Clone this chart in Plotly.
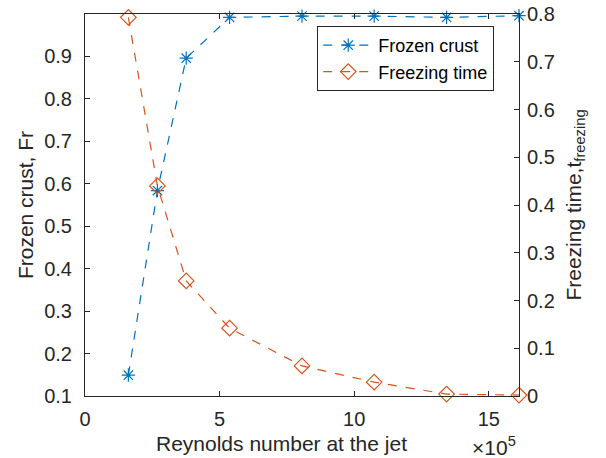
import plotly.graph_objects as go

re_jet = [1.61, 2.69, 3.76, 5.37, 8.06, 10.74, 13.43, 16.12]
frozen_crust = [0.149, 0.584, 0.896, 0.992, 0.995, 0.995, 0.992, 0.996]
freezing_time = [0.793, 0.440, 0.241, 0.142, 0.063, 0.029, 0.004, 0.002]

blue = "#0072BD"
orange = "#D95319"
ink = "#262626"
font = "Liberation Sans, Arial, Helvetica, sans-serif"

L, R, T, B = 84.5, 87, 14, 62
W, H = 606, 458
pw = W - L - R
ph = H - T - B

fig = go.Figure()
fig.add_trace(go.Scatter(
    x=re_jet, y=frozen_crust, name="Frozen crust", mode="lines+markers",
    line=dict(color=blue, width=1.2, dash="dash"),
    marker=dict(symbol="asterisk-open", size=11, color=blue, line=dict(color=blue, width=1.2)),
    yaxis="y", cliponaxis=False))
fig.add_trace(go.Scatter(
    x=re_jet, y=freezing_time, name="Freezing time", mode="lines+markers",
    line=dict(color=orange, width=1.2, dash="dash"),
    marker=dict(symbol="diamond-open", size=12, color=orange, line=dict(color=orange, width=1.2)),
    yaxis="y2", cliponaxis=False))

axis_common = dict(showgrid=False, zeroline=False, showline=True, linecolor=ink, linewidth=1,
                   ticks="inside", ticklen=5, tickcolor=ink, tickwidth=1,
                   tickfont=dict(family=font, size=20, color=ink))

fig.update_layout(
    width=W, height=H,
    margin=dict(l=L, r=R, t=T, b=B, autoexpand=False),
    paper_bgcolor="white", plot_bgcolor="white",
    font=dict(family=font, color=ink),
    xaxis=dict(range=[0, 16.12], tickvals=[0, 5, 10, 15], mirror="ticks", **axis_common,
               ticklabelstandoff=5),
    yaxis=dict(range=[0.1, 1.0], tickvals=[0.1, 0.2, 0.3, 0.4, 0.5, 0.6, 0.7, 0.8, 0.9],
               tickformat=".1f", ticklabelstandoff=8,
               title=dict(text="Frozen crust, Fr", font=dict(family=font, size=21, color=ink), standoff=4),
               **axis_common),
    yaxis2=dict(range=[0, 0.8], overlaying="y", side="right",
                tickvals=[0, 0.1, 0.2, 0.3, 0.4, 0.5, 0.6, 0.7, 0.8],
                ticktext=["0", "0.1", "0.2", "0.3", "0.4", "0.5", "0.6", "0.7", "0.8"],
                ticklabelstandoff=3,
                title=dict(text="Freezing time,t<sub>freezing</sub>",
                           font=dict(family=font, size=21, color=ink), standoff=12),
                **axis_common),
    legend=dict(x=(317 - L) / pw, y=(H - B - 26) / ph, xanchor="left", yanchor="top", bgcolor="white",
                bordercolor=ink, borderwidth=1, font=dict(family=font, size=18, color="black"),
                itemwidth=50, tracegroupgap=0),
    showlegend=True,
    annotations=[
        dict(text="Reynolds number at the jet", x=(281 - L) / pw, y=(H - B - 443) / ph,
             xref="paper", yref="paper", xanchor="center", yanchor="middle",
             showarrow=False, font=dict(family=font, size=21, color=ink)),
        dict(text="×10<sup>5</sup>", x=(518 - L) / pw, y=(H - B - 446) / ph,
             xref="paper", yref="paper", xanchor="right", yanchor="middle",
             showarrow=False, font=dict(family=font, size=21, color=ink)),
    ],
)

fig.write_html("out.html")
